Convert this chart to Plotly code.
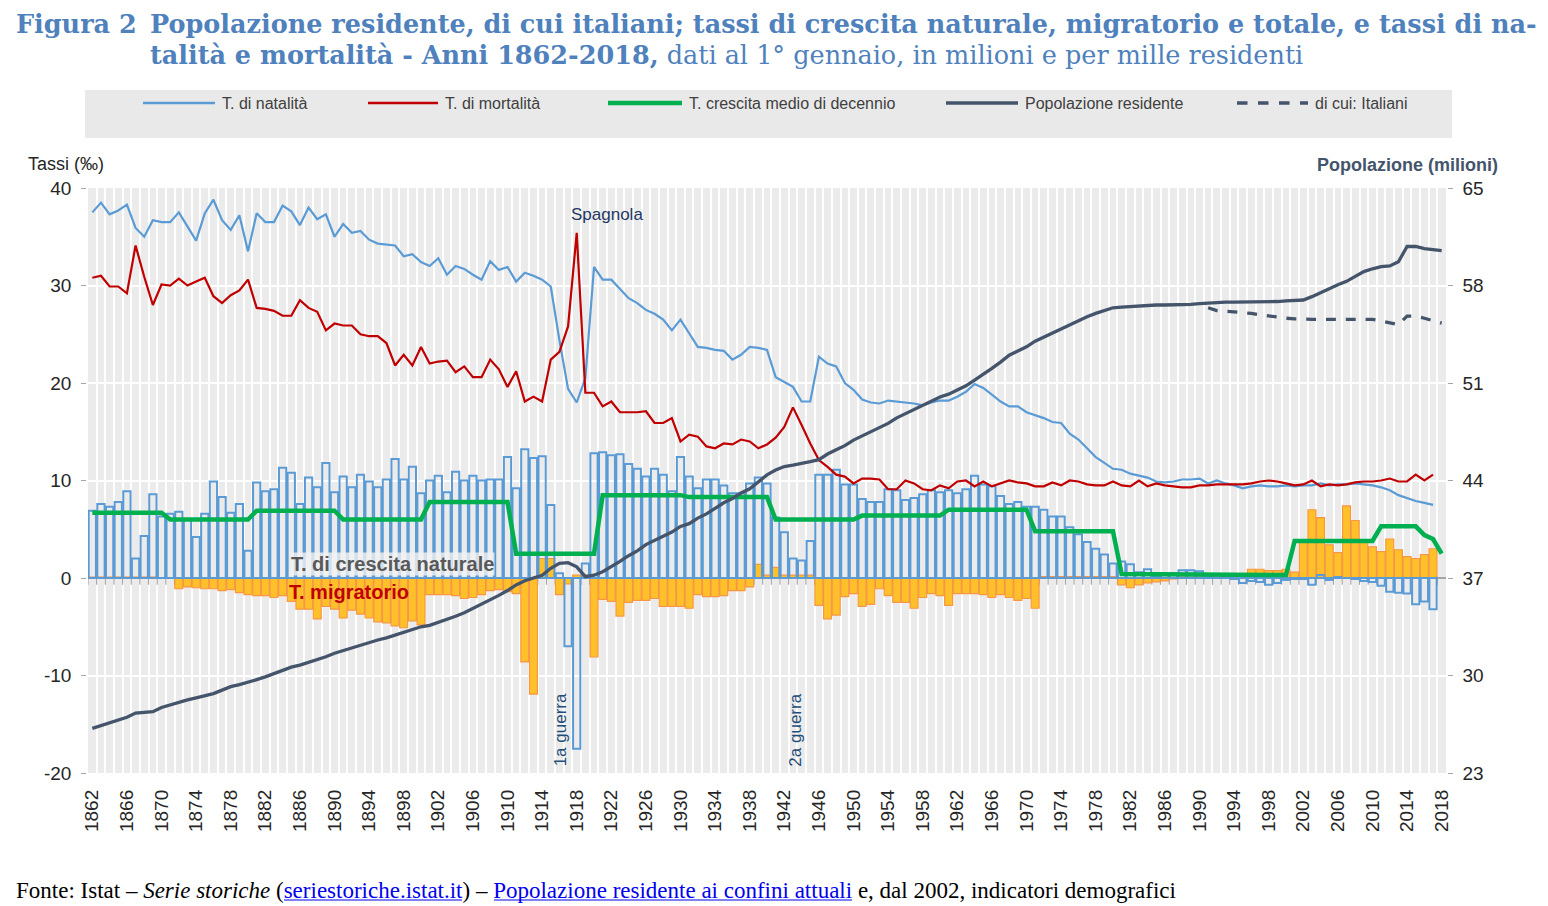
import plotly.graph_objects as go

# Anni
anni = list(range(1862, 2019))
anni_tassi = list(range(1862, 2018))

# Tasso di natalita' (per mille), 1862-2017
natalita = [
    37.5, 38.5, 37.3, 37.7, 38.3, 35.9, 35.0, 36.7, 36.5, 36.5,
    37.5, 36.0, 34.6, 37.4, 38.8, 36.7, 35.7, 37.2, 33.5, 37.4,
    36.5, 36.5, 38.2, 37.6, 36.2, 38.0, 36.8, 37.3, 35.0, 36.3,
    35.4, 35.6, 34.7, 34.3, 34.2, 34.1, 33.0, 33.2, 32.4, 32.0,
    32.8, 31.1, 32.0, 31.7, 31.1, 30.6, 32.5, 31.6, 31.9, 30.4,
    31.3, 31.0, 30.6, 29.9, 24.4, 19.4, 18.0, 20.5, 31.9, 30.6,
    30.6, 29.7, 28.7, 28.2, 27.5, 27.1, 26.5, 25.4, 26.5, 25.1,
    23.7, 23.6, 23.4, 23.3, 22.4, 22.9, 23.7, 23.6, 23.4, 20.6,
    20.1, 19.6, 18.1, 18.1, 22.7, 22.0, 21.7, 20.0, 19.3, 18.3,
    18.0, 17.9, 18.2, 18.1, 18.0, 17.9, 17.7, 18.0, 18.2, 18.2,
    18.6, 19.1, 19.9, 19.5, 18.8, 18.1, 17.6, 17.6, 17.0, 16.7,
    16.4, 16.0, 15.9, 14.8, 14.2, 13.3, 12.4, 11.8, 11.2, 11.1,
    10.7, 10.5, 10.3, 9.9, 9.8, 9.9, 10.1, 10.1, 10.2, 9.7,
    10.0, 9.7, 9.5, 9.2, 9.4, 9.5, 9.4, 9.4, 9.5, 9.4,
    9.5, 9.5, 9.7, 9.5, 9.6, 9.6, 9.7, 9.6, 9.5, 9.3,
    9.0, 8.5, 8.2, 7.9, 7.7, 7.5,
]

# Tasso di mortalita' (per mille), 1862-2017
mortalita = [
    30.8, 31.0, 29.9, 29.9, 29.2, 34.1, 30.9, 28.0, 30.1, 30.0,
    30.7, 30.0, 30.4, 30.8, 28.9, 28.2, 29.0, 29.5, 30.6, 27.7,
    27.6, 27.4, 26.9, 26.9, 28.5, 27.7, 27.3, 25.4, 26.1, 25.9,
    25.9, 25.0, 24.8, 24.8, 24.1, 21.8, 22.9, 21.8, 23.7, 22.0,
    22.2, 22.3, 21.1, 21.7, 20.6, 20.6, 22.4, 21.4, 19.6, 21.2,
    18.1, 18.6, 18.1, 22.4, 23.2, 25.8, 35.4, 19.0, 19.0, 17.6,
    18.1, 17.0, 17.0, 17.0, 17.1, 15.9, 15.9, 16.4, 14.0, 14.7,
    14.5, 13.5, 13.3, 13.8, 13.7, 14.2, 14.0, 13.3, 13.7, 14.4,
    15.5, 17.5, 15.7, 13.8, 12.1, 11.4, 10.6, 10.4, 9.7, 10.2,
    10.2, 10.1, 9.1, 9.1, 10.0, 9.7, 9.1, 9.0, 9.5, 9.2,
    9.9, 10.0, 9.4, 9.9, 9.4, 9.7, 10.0, 9.8, 9.7, 9.4,
    9.4, 9.8, 9.5, 10.0, 9.9, 9.6, 9.5, 9.5, 9.9, 9.5,
    9.4, 10.0, 9.4, 9.7, 9.5, 9.4, 9.3, 9.3, 9.5, 9.5,
    9.6, 9.6, 9.6, 9.6, 9.7, 9.9, 10.0, 9.9, 9.7, 9.5,
    9.6, 10.0, 9.4, 9.6, 9.5, 9.6, 9.8, 9.9, 9.9, 10.0,
    10.2, 9.9, 9.9, 10.6, 10.0, 10.6,
]

# Tasso di crescita naturale (per mille), 1862-2017
crescita_naturale = [
    6.9, 7.6, 7.3, 7.8, 8.9, 2.0, 4.3, 8.6, 6.3, 6.6,
    6.8, 6.0, 4.2, 6.6, 9.9, 8.3, 6.7, 7.6, 2.8, 9.8,
    8.9, 9.1, 11.3, 10.8, 7.6, 10.3, 9.3, 11.8, 8.8, 10.4,
    9.3, 10.6, 9.9, 9.3, 10.1, 12.2, 10.1, 11.4, 8.7, 10.0,
    10.5, 8.8, 10.9, 10.0, 10.5, 10.0, 10.1, 10.1, 12.4, 9.2,
    13.2, 12.3, 12.5, 7.5, 0.5, -7.0, -17.5, 1.5, 12.8, 12.9,
    12.6, 12.7, 11.7, 11.2, 10.4, 11.2, 10.6, 8.9, 12.4, 10.4,
    9.2, 10.1, 10.1, 9.5, 8.7, 8.7, 9.7, 10.3, 9.7, 6.2,
    4.7, 2.0, 1.8, 3.8, 10.6, 10.6, 11.1, 9.6, 9.6, 8.1,
    7.8, 7.8, 9.1, 9.0, 8.0, 8.2, 8.6, 9.0, 8.8, 9.0,
    8.7, 9.1, 10.5, 9.6, 9.4, 8.4, 7.6, 7.8, 7.3, 7.3,
    7.0, 6.3, 6.3, 5.2, 4.5, 3.7, 3.0, 2.4, 1.5, 1.7,
    1.4, 0.6, 0.9, 0.2, 0.3, 0.5, 0.8, 0.8, 0.7, 0.2,
    0.4, 0.1, -0.1, -0.5, -0.3, -0.4, -0.7, -0.5, -0.2, -0.1,
    -0.1, -0.7, 0.3, -0.2, 0.1, 0.0, -0.1, -0.3, -0.4, -0.8,
    -1.4, -1.5, -1.6, -2.7, -2.4, -3.2,
]

# Tasso migratorio (per mille), 1862-2017
migratorio = [
    0.1, 0.1, 0.1, 0.1, 0.1, 0.1, 0.1, 0.1, 0.0, 0.0,
    -1.1, -0.9, -1.0, -1.1, -1.1, -1.3, -1.2, -1.5, -1.7, -1.8,
    -1.8, -2.0, -1.8, -2.4, -3.2, -3.2, -4.2, -2.9, -3.2, -4.1,
    -3.3, -3.7, -4.1, -4.5, -4.6, -4.9, -5.1, -4.4, -4.8, -1.7,
    -1.7, -1.7, -1.8, -2.1, -2.0, -1.7, -1.3, -1.2, -1.4, -1.6,
    -8.6, -11.9, 2.0, 2.0, -1.7, -0.6, 0.3, 0.3, -8.1, -2.2,
    -2.4, -3.9, -2.5, -2.3, -2.3, -2.1, -2.9, -2.9, -2.9, -3.1,
    -1.7, -1.9, -1.9, -1.8, -1.3, -1.3, -0.9, 1.4, 0.3, 1.1,
    0.3, 0.3, 0.3, 0.3, -2.8, -4.2, -3.8, -1.9, -1.6, -2.9,
    -2.7, -1.1, -1.8, -2.5, -2.5, -3.1, -2.0, -1.6, -1.8, -2.8,
    -1.6, -1.6, -1.6, -1.7, -2.0, -1.7, -2.0, -2.3, -2.1, -3.1,
    0.15, 0.15, 0.15, 0.15, 0.15, 0.15, 0.15, 0.15, 0.15, -0.7,
    -1.0, -0.7, -0.5, -0.4, -0.3, -0.1, 0.1, 0.1, 0.2, 0.1,
    0.1, 0.1, 0.1, 0.1, 0.9, 0.9, 0.75, 0.75, 0.9, 0.6,
    3.7, 7.0, 6.2, 3.4, 2.6, 7.4, 5.9, 3.7, 3.2, 2.7,
    4.0, 2.9, 2.2, 2.0, 2.4, 3.0,
]

# Tasso di crescita medio di decennio (per mille), 1862-2018
crescita_decennio = [
    6.7, 6.7, 6.7, 6.7, 6.7, 6.7, 6.7, 6.7, 6.7,
    6.0, 6.0, 6.0, 6.0, 6.0, 6.0, 6.0, 6.0, 6.0, 6.0,
    6.9, 6.9, 6.9, 6.9, 6.9, 6.9, 6.9, 6.9, 6.9, 6.9,
    6.0, 6.0, 6.0, 6.0, 6.0, 6.0, 6.0, 6.0, 6.0, 6.0,
    7.8, 7.8, 7.8, 7.8, 7.8, 7.8, 7.8, 7.8, 7.8, 7.8,
    2.5, 2.5, 2.5, 2.5, 2.5, 2.5, 2.5, 2.5, 2.5, 2.5,
    8.5, 8.5, 8.5, 8.5, 8.5, 8.5, 8.5, 8.5, 8.5, 8.5,
    8.3, 8.3, 8.3, 8.3, 8.3, 8.3, 8.3, 8.3, 8.3, 8.3,
    6.0, 6.0, 6.0, 6.0, 6.0, 6.0, 6.0, 6.0, 6.0, 6.0,
    6.4, 6.4, 6.4, 6.4, 6.4, 6.4, 6.4, 6.4, 6.4, 6.4,
    7.0, 7.0, 7.0, 7.0, 7.0, 7.0, 7.0, 7.0, 7.0, 7.0,
    4.8, 4.8, 4.8, 4.8, 4.8, 4.8, 4.8, 4.8, 4.8, 4.8,
    0.4, 0.4, 0.4, 0.4, 0.4, 0.4, 0.4, 0.4, 0.4, 0.4,
    0.3, 0.3, 0.3, 0.3, 0.3, 0.3, 0.3, 0.3, 0.3, 0.3,
    3.8, 3.8, 3.8, 3.8, 3.8, 3.8, 3.8, 3.8, 3.8, 3.8,
    5.3, 5.3, 5.3, 5.3, 5.3, 4.4, 4.0, 2.5,
]

# Popolazione residente (milioni), 1862-2018
popolazione = [
    26.2, 26.4, 26.6, 26.8, 27.0, 27.3, 27.35, 27.4, 27.7, 27.9,
    28.1, 28.25, 28.4, 28.55, 28.7, 28.95, 29.2, 29.35, 29.5, 29.7,
    29.9, 30.15, 30.4, 30.6, 30.75, 30.95, 31.1, 31.35, 31.6, 31.8,
    31.95, 32.15, 32.4, 32.55, 32.7, 32.9, 33.1, 33.3, 33.5, 33.6,
    33.8, 34.0, 34.25, 34.5, 34.8, 35.1, 35.4, 35.75, 36.1, 36.5,
    36.8, 37.0, 37.2, 37.7, 38.05, 38.1, 37.8, 37.1, 37.2, 37.45,
    37.8, 38.2, 38.6, 38.95, 39.4, 39.7, 40.0, 40.3, 40.7, 40.9,
    41.3, 41.6, 42.0, 42.4, 42.7, 43.1, 43.4, 43.9, 44.4, 44.75,
    45.0, 45.1, 45.2, 45.35, 45.5, 45.9, 46.2, 46.5, 46.9, 47.2,
    47.5, 47.8, 48.1, 48.5, 48.8, 49.1, 49.4, 49.7, 50.0, 50.2,
    50.5, 50.8, 51.2, 51.6, 52.05, 52.5, 53.0, 53.3, 53.6, 54.0,
    54.3, 54.6, 54.9, 55.2, 55.5, 55.75, 56.0, 56.2, 56.4, 56.45,
    56.5, 56.55, 56.6, 56.6, 56.6, 56.6, 56.65, 56.65, 56.7, 56.75,
    56.8, 56.8, 56.8, 56.8, 56.8, 56.8, 56.8, 56.85, 56.9, 56.95,
    56.96, 57.2, 57.5, 57.8, 58.05, 58.3, 58.65, 59.0, 59.2, 59.35,
    59.4, 59.7, 60.8, 60.8, 60.65, 60.6, 60.5,
]

# di cui: Italiani (milioni), 1991-2018
anni_italiani = list(range(1991, 2019))
italiani = [
    56.4, 56.2, 56.15, 56.1, 56.1, 56.0, 55.9, 55.8, 55.7, 55.65,
    55.6, 55.57, 55.57, 55.57, 55.57, 55.57, 55.57, 55.57, 55.57, 55.57,
    55.45, 55.35, 55.2, 55.8, 55.8, 55.65, 55.5, 55.3,
]

# Etichette asse x e assi y
tick_anni = anni[::4]
tick_tassi = [-20, -10, 0, 10, 20, 30, 40]
tick_pop = [23, 30, 37, 44, 51, 58, 65]

# La pagina html ha un margine di 8 px: coordinate in pixel della finestra
OFF = 8
W, H = 1548 - OFF, 906 - OFF
L, T = 88 - OFF, 188 - OFF
R, B = W - (1446 - OFF), H - (773 - OFF)
PW, PH = W - L - R, H - T - B


def px(x):
    return (x - OFF - L) / PW


def py(y):
    return (H - B - (y - OFF)) / PH


NARROW = "Liberation Sans Narrow, Liberation Sans, Arial"
SANS = "Liberation Sans, Arial"
SERIF = "Liberation Serif, DejaVu Serif, serif"
SERIF_TITOLO = "DejaVu Serif, Liberation Serif, serif"
BLU_TITOLO = "#4f81bd"
GRIGIO_ASSE = "#a6a6a6"

fig = go.Figure()

# trattini sotto la linea dello zero, uno per ogni anno
confini = [a - 0.5 for a in anni]
fig.add_trace(go.Scatter(
    x=confini, y=[-0.27] * len(confini), mode="markers", zorder=-1,
    marker=dict(symbol="line-ns", size=6, line=dict(width=1.2, color=GRIGIO_ASSE)),
    hoverinfo="skip", showlegend=False,
))
fig.add_trace(go.Bar(
    x=anni_tassi, y=migratorio, width=0.92,
    marker=dict(color="#ffc02a", line=dict(color="#f79646", width=1.2)),
    name="T. migratorio", showlegend=False,
))
fig.add_trace(go.Bar(
    x=anni_tassi, y=crescita_naturale, width=0.84,
    marker=dict(color="rgba(0,0,0,0)", line=dict(color="#5b9bd5", width=2)),
    name="T. di crescita naturale", showlegend=False,
))
fig.add_trace(go.Scatter(
    x=anni_tassi, y=natalita, mode="lines",
    line=dict(color="#5b9bd5", width=2.2), showlegend=False,
))
fig.add_trace(go.Scatter(
    x=anni_tassi, y=mortalita, mode="lines",
    line=dict(color="#c00000", width=2.2), showlegend=False,
))
fig.add_trace(go.Scatter(
    x=anni, y=crescita_decennio, mode="lines",
    line=dict(color="#00b050", width=4.5), showlegend=False,
))
fig.add_trace(go.Scatter(
    x=anni, y=popolazione, mode="lines", yaxis="y2",
    line=dict(color="#44546a", width=3.3), showlegend=False,
))
fig.add_trace(go.Scatter(
    x=anni_italiani, y=italiani, mode="lines", yaxis="y2",
    line=dict(color="#44546a", width=3.3, dash="dash"), showlegend=False,
))

# Legenda disegnata a mano
shapes = [dict(type="rect", xref="paper", yref="paper",
               x0=px(85), x1=px(1452), y0=py(138), y1=py(90),
               fillcolor="#e9e9e9", line=dict(width=0), layer="below")]
voci = [
    (143, 215, "#5b9bd5", 2.5, "solid", "T. di natalità"),
    (368, 438, "#c00000", 2.5, "solid", "T. di mortalità"),
    (608, 682, "#00b050", 4.5, "solid", "T. crescita medio di decennio"),
    (946, 1018, "#44546a", 3.5, "solid", "Popolazione residente"),
    (1237, 1308, "#44546a", 3.5, "dash", "di cui: Italiani"),
]
annotations = []
for x0, x1, col, lw, dash, testo in voci:
    shapes.append(dict(type="line", xref="paper", yref="paper",
                       x0=px(x0), x1=px(x1), y0=py(103), y1=py(103),
                       line=dict(color=col, width=lw, dash=dash)))
    annotations.append(dict(xref="paper", yref="paper", x=px(x1 + 5), y=py(103),
                            xanchor="left", yanchor="middle", showarrow=False,
                            text=testo, font=dict(family=NARROW, size=16, color="#404040")))

# Titolo
annotations += [
    dict(xref="paper", yref="paper", x=px(14), y=py(23.5), xanchor="left", yanchor="middle",
         showarrow=False, text="<b>Figura 2</b>",
         font=dict(family=SERIF_TITOLO, size=25.5, color=BLU_TITOLO)),
    dict(xref="paper", yref="paper", x=px(148), y=py(23.5), xanchor="left", yanchor="middle",
         showarrow=False,
         text="<b>Popolazione residente, di cui italiani; tassi di crescita naturale, migratorio e totale, e tassi di na-</b>",
         font=dict(family=SERIF_TITOLO, size=25.5, color=BLU_TITOLO)),
    dict(xref="paper", yref="paper", x=px(148), y=py(55), xanchor="left", yanchor="middle",
         showarrow=False,
         text="<b>talità e mortalità - Anni 1862-2018,</b> dati al 1° gennaio, in milioni e per mille residenti",
         font=dict(family=SERIF_TITOLO, size=25.5, color=BLU_TITOLO)),
]

# Titoli degli assi
annotations += [
    dict(xref="paper", yref="paper", x=px(66), y=py(164), xanchor="center", yanchor="middle",
         showarrow=False, text="Tassi (‰)", font=dict(family=NARROW, size=18, color="#262626")),
    dict(xref="paper", yref="paper", x=px(1500), y=py(165), xanchor="right", yanchor="middle",
         showarrow=False, text="<b>Popolazione (milioni)</b>",
         font=dict(family=NARROW, size=18, color="#44546a")),
]

# Note nel grafico
annotations += [
    dict(x=1921.5, y=37.3, xref="x", yref="y", showarrow=False, text="Spagnola",
         font=dict(family=SANS, size=17, color="#1f3864")),
    dict(x=1916.1, y=-15.6, xref="x", yref="y", showarrow=False, text="1a guerra", textangle=-90,
         font=dict(family=SANS, size=17, color="#1f4e79")),
    dict(x=1943.3, y=-15.6, xref="x", yref="y", showarrow=False, text="2a guerra", textangle=-90,
         font=dict(family=SANS, size=17, color="#1f4e79")),
    dict(x=1896.7, y=1.4, xref="x", yref="y", showarrow=False, text="<b>T. di crescita naturale</b>",
         bgcolor="rgba(242,242,242,0.8)", borderpad=0,
         font=dict(family=NARROW, size=20, color="#595959")),
    dict(x=1891.7, y=-1.4, xref="x", yref="y", showarrow=False, text="<b>T. migratorio</b>",
         font=dict(family=NARROW, size=20, color="#c00000")),
]

# Fonte
annotations.append(dict(
    xref="paper", yref="paper", x=px(14), y=py(890), xanchor="left", yanchor="middle",
    showarrow=False,
    text=("Fonte: Istat – <i>Serie storiche</i> (<span style='color:#0000ee'>seriestoriche.istat.it</span>) – "
          "<span style='color:#0000ee'>Popolazione residente ai confini attuali</span> e, dal 2002, indicatori demografici"),
    font=dict(family=SERIF, size=23, color="#000000"),
))
for x0, x1 in [(284, 462), (494, 852)]:
    shapes.append(dict(type="line", xref="paper", yref="paper",
                       x0=px(x0), x1=px(x1), y0=py(900), y1=py(900),
                       line=dict(color="#0000ee", width=1)))

fig.update_layout(
    width=W, height=H,
    margin=dict(l=L, r=R, t=T, b=B),
    paper_bgcolor="white",
    plot_bgcolor="#ebebeb",
    barmode="overlay",
    showlegend=False,
    shapes=shapes,
    annotations=annotations,
    xaxis=dict(
        range=[1861.5, 2018.5],
        tickmode="array", tickvals=tick_anni, ticktext=[str(a) for a in tick_anni],
        tickangle=-90, ticks="", showgrid=False, zeroline=False, showline=False,
        ticklabelstandoff=12,
        tickfont=dict(family=SANS, size=19, color="#262626"),
        minor=dict(tick0=1861.5, dtick=1, showgrid=True, gridcolor="white", gridwidth=1.5),
    ),
    yaxis=dict(
        range=[-20, 40], tickmode="array", tickvals=tick_tassi,
        ticktext=[str(v) for v in tick_tassi],
        ticks="outside", ticklen=5, tickcolor=GRIGIO_ASSE, ticklabelstandoff=6,
        showline=True, linecolor=GRIGIO_ASSE, linewidth=1.5,
        showgrid=True, gridcolor="white", gridwidth=1.5,
        zeroline=True, zerolinecolor=GRIGIO_ASSE, zerolinewidth=1.5,
        tickfont=dict(family=NARROW, size=19, color="#262626"),
    ),
    yaxis2=dict(
        overlaying="y", side="right",
        range=[23, 65], tickmode="array", tickvals=tick_pop,
        ticks="outside", ticklen=5, tickcolor=GRIGIO_ASSE, ticklabelstandoff=6,
        showline=True, linecolor=GRIGIO_ASSE, linewidth=1.5,
        showgrid=False, zeroline=False,
        tickfont=dict(family=NARROW, size=19, color="#262626"),
    ),
)

fig.write_html("out.html")
